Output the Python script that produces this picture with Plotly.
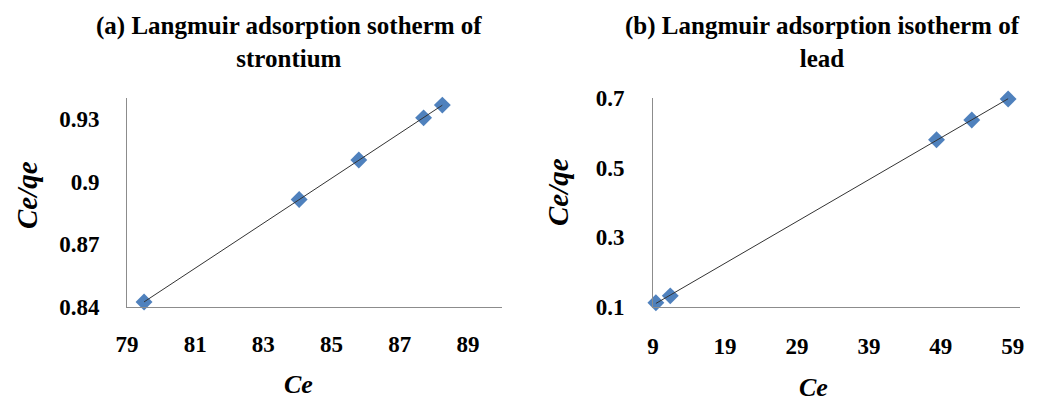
import numpy as np
import plotly.graph_objects as go

# Strontium (panel a)
sr_ce = [79.5, 84.05, 85.8, 87.7, 88.25]
sr_ceqe = [0.8424, 0.8914, 0.9103, 0.9305, 0.9366]

# Lead (panel b)
pb_ce = [9.4, 11.4, 48.4, 53.3, 58.35]
pb_ceqe = [0.112, 0.132, 0.580, 0.637, 0.697]

sr_xticks = [79, 81, 83, 85, 87, 89]
sr_yticks = [0.84, 0.87, 0.9, 0.93]
pb_xticks = [9, 19, 29, 39, 49, 59]
pb_yticks = [0.1, 0.3, 0.5, 0.7]

W, H = 1037, 401
SERIF = "Liberation Serif"
MARKER_BLUE = "#4F81BD"
AXIS_GREY = "#8c8c8c"

fig = go.Figure()


def add_panel(x, y, xa, ya):
    fig.add_trace(go.Scatter(
        x=x, y=y, mode="markers", xaxis=xa, yaxis=ya,
        marker=dict(symbol="diamond", size=13, color=MARKER_BLUE,
                    line=dict(width=0)),
        cliponaxis=False, showlegend=False,
    ))
    # least-squares trend line across the data span
    k, b = np.polyfit(x, y, 1)
    xs = np.array([min(x), max(x)])
    fig.add_trace(go.Scatter(
        x=xs, y=k * xs + b, mode="lines", xaxis=xa, yaxis=ya,
        line=dict(color="#333333", width=1),
        cliponaxis=False, showlegend=False,
    ))


add_panel(sr_ce, sr_ceqe, "x", "y")
add_panel(pb_ce, pb_ceqe, "x2", "y2")

tick_font = dict(family=SERIF, size=23, color="black", weight="bold")
ybot, ytop = (H - 307) / H, (H - 98) / H


def axis(domain, rng, ticks, anchor, standoff):
    return dict(
        domain=domain, range=rng, tickvals=ticks, anchor=anchor,
        showgrid=False, zeroline=False, showline=True,
        linecolor=AXIS_GREY, linewidth=1, ticks="",
        tickfont=tick_font, ticklabelstandoff=standoff,
        automargin=False, fixedrange=True,
    )


fig.update_layout(
    width=W, height=H,
    margin=dict(l=0, r=0, t=0, b=0, autoexpand=False),
    paper_bgcolor="white", plot_bgcolor="white",
    xaxis=axis([127 / W, 502 / W], [79, 90], sr_xticks, "y", 16),
    yaxis=axis([ybot, ytop], [0.84, 0.94], sr_yticks, "x", 22),
    xaxis2=axis([653 / W, 1020 / W], [9, 60], pb_xticks, "y2", 18),
    yaxis2=axis([ybot, ytop], [0.1, 0.7], pb_yticks, "x2", 23),
)

title_font = dict(family=SERIF, size=25, color="black", weight="bold")
ytitle_font = dict(family=SERIF, size=29, color="black",
                   weight="bold", style="italic")
xtitle_font = dict(family=SERIF, size=26, color="black",
                   weight="bold", style="italic")


def note(text, x, y, font, angle=0):
    fig.add_annotation(
        text=text, x=x / W, y=1 - y / H, xref="paper", yref="paper",
        showarrow=False, font=font, textangle=angle,
        xanchor="center", yanchor="middle", align="center",
    )


note("(a) Langmuir adsorption sotherm of<br>strontium", 289, 42, title_font)
note("(b) Langmuir adsorption isotherm of<br>lead", 822, 42, title_font)
note("Ce/qe", 27, 195, ytitle_font, -90)
note("Ce/qe", 558, 192, ytitle_font, -90)
note("Ce", 298, 384, xtitle_font)
note("Ce", 813, 387, xtitle_font)

fig.write_html("out.html")
